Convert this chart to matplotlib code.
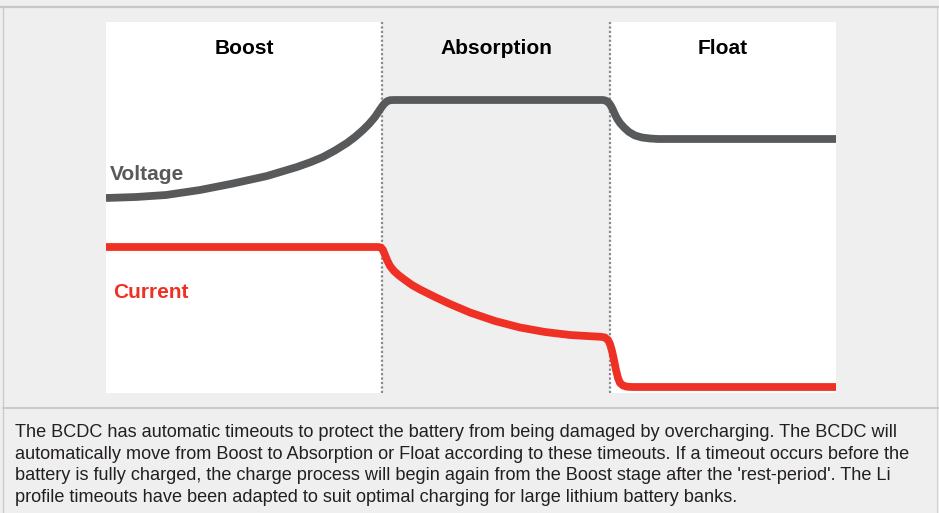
import matplotlib.pyplot as plt
from matplotlib.lines import Line2D

# stage boundaries (time units across the chart) and labels
stage_names = ['Boost', 'Absorption', 'Float']
stage_edges = [0, 276, 504, 730]

# voltage profile
volt_t = [0, 30, 60, 94, 127, 161, 191, 205, 217, 229, 241, 249, 257, 263,
          269, 272, 275, 278, 281, 284, 288,
          497, 500, 503, 505, 507, 509, 511, 514, 518, 523, 529, 536, 544,
          552, 730]
volt_v = [195, 196, 198, 203, 209.5, 217, 226, 231, 236, 242.5, 250, 256, 263,
          269, 276, 280.5, 285, 289, 291.7, 292.8, 293,
          293, 292.3, 290, 287, 283, 278.5, 274.5, 270, 265.5, 261, 257.5,
          255.5, 254.5, 254, 254]

# current profile
curr_t = [0, 272, 275, 277, 279, 281, 284, 288, 293, 299, 306, 314, 329,
          344, 364, 389, 414, 439, 464, 484, 495, 499, 502, 504, 506, 508,
          510, 512, 514, 517, 521, 526, 730]
curr_i = [146, 146, 145.5, 143, 138, 133, 127, 122, 117.5, 113, 108, 103.5,
          96, 89, 80.5, 72, 65.5, 61, 58, 56.8, 56.2, 55.5, 53, 49, 42, 33,
          23, 15, 10, 7.5, 6.3, 6, 6]

body_lines = [
    "The BCDC has automatic timeouts to protect the battery from being damaged by overcharging. The BCDC will",
    "automatically move from Boost to Absorption or Float according to these timeouts. If a timeout occurs before the",
    "battery is fully charged, the charge process will begin again from the Boost stage after the 'rest-period'. The Li",
    "profile timeouts have been adapted to suit optimal charging for large lithium battery banks.",
]

plt.rcParams['font.family'] = ['Liberation Sans', 'DejaVu Sans']

W, H = 939, 513
bg = '#efefef'
volt_color = '#58595b'
curr_color = '#ee3124'

fig = plt.figure(figsize=(W / 100, H / 100), dpi=100, facecolor=bg)

# chart area
ax = fig.add_axes([106 / W, (H - 393) / H, 730 / W, 371 / H])
ax.set_xlim(stage_edges[0], stage_edges[-1])
ax.set_ylim(0, 371)
ax.axis('off')

# white backgrounds for Boost and Float
ax.axvspan(stage_edges[0], stage_edges[1], color='white', lw=0, zorder=0)
ax.axvspan(stage_edges[2], stage_edges[3], color='white', lw=0, zorder=0)

# dotted stage dividers
for xe in stage_edges[1:3]:
    ax.axvline(xe, color='#8a8a8a', lw=1.6, ls=(0, (1, 1)), zorder=1)

for i, name in enumerate(stage_names):
    xc = (stage_edges[i] + stage_edges[i + 1]) / 2
    ax.text(xc, 345, name, ha='center', va='center', fontsize=15,
            fontweight='bold', color='black')

ax.plot(volt_t, volt_v, color=volt_color, lw=5.6, solid_capstyle='butt',
        solid_joinstyle='round', zorder=3)
ax.plot(curr_t, curr_i, color=curr_color, lw=5.6, solid_capstyle='butt',
        solid_joinstyle='round', zorder=3)

ax.text(4, 219, 'Voltage', ha='left', va='center', fontsize=15,
        fontweight='bold', color=volt_color)
ax.text(7, 100, 'Current', ha='left', va='center', fontsize=15,
        fontweight='bold', color=curr_color)

# frame lines (pixel coordinates)
def px_line(x0, y0, x1, y1, color, lw):
    fig.add_artist(Line2D([x0 / W, x1 / W], [1 - y0 / H, 1 - y1 / H],
                          transform=fig.transFigure, color=color, lw=lw))

px_line(0, 7, W, 7, '#c6c6c6', 1.6)
px_line(3, 7, 3, H, '#c8c8c8', 0.9)
px_line(937, 7, 937, H, '#d4d4d4', 0.9)
px_line(3, 408, W, 408, '#c6c6c6', 1.3)

# description text
for k, line in enumerate(body_lines):
    fig.text(15 / W, 1 - (437 + 21.7 * k) / H, line, ha='left', va='baseline',
             fontsize=13.05, color='#231f20')

fig.savefig('out.png', dpi=100, facecolor=bg)
